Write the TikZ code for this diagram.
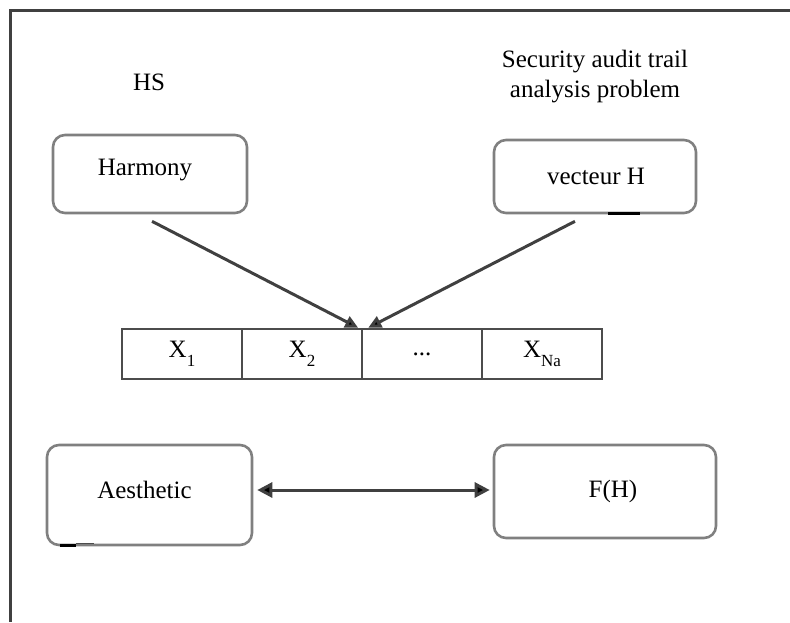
\documentclass[tikz,border=0pt]{standalone}
\usepackage{fontspec}
\setmainfont{Liberation Serif}
\usetikzlibrary{arrows.meta}
\newcommand\subx[1]{\raisebox{-0.8ex}{\fontsize{17}{17}\selectfont #1}}
\begin{document}
\begin{tikzpicture}[x=1pt,y=-1pt,
  every node/.style={font=\fontsize{25}{30}\selectfont},
  box/.style={draw=black!50, line width=2.6pt, rounded corners=12pt, inner sep=0pt},
  cell/.style={draw=black!70, line width=2.4pt, minimum width=120pt, minimum height=50pt, inner sep=0pt},
  link/.style={draw=black!75, line width=3pt, -{Triangle[length=13pt,width=12pt,fill=black]}},
  dlink/.style={draw=black!75, line width=3pt, {Triangle[length=15pt,width=15pt,fill=black]}-{Triangle[length=15pt,width=15pt,fill=black]}},
  frame/.style={draw=black!75, line width=3pt}]
\useasboundingbox (0,0) rectangle (790,622);
% frame
\coordinate (ftl) at (10,10);
\coordinate (ftr) at (790,10);
\coordinate (fbl) at (10,622);
\draw[frame] (ftr) -- (ftl) -- (fbl);
% titles
\node (hs) at (149,82) {HS};
\node[align=center] (sat) at (595,77) {Security audit trail\\analysis problem};
% boxes
\node[box, minimum width=194pt, minimum height=78pt,
  label={[xshift=-5pt,yshift=4pt]center:Harmony}] (harm) at (150,174) {};
\node[box, minimum width=202pt, minimum height=73pt,
  label={[xshift=1pt,yshift=0pt]center:vecteur H}] (vec) at (595,176.5) {};
\node[box, minimum width=205pt, minimum height=100pt,
  label={[xshift=-5pt,yshift=5pt]center:Aesthetic}] (aes) at (149.5,495) {};
\node[box, minimum width=222pt, minimum height=93pt,
  label={[xshift=8pt,yshift=0pt]center:F(H)}] (fh) at (605,491.5) {};
% array
\node[cell] (c1) at (182,354) {X\subx{1}};
\node[cell] (c2) at (302,354) {X\subx{2}};
\node[cell] (c3) at (422,354) {...};
\node[cell] (c4) at (542,354) {X\subx{Na}};
% small marks
\draw[black, line width=3pt] (608,213) -- (640,213);
\draw[black, line width=3pt] (60,545) -- (76,545);
\draw[black!70, line width=1.5pt] (76,543.5) -- (94,543.5);
% connectors
\coordinate (a1s) at ([shift={(2,7)}]harm.south);
\coordinate (a1e) at ([xshift=-5pt]c2.north east);
\coordinate (a2s) at ([shift={(-20,7)}]vec.south);
\coordinate (a2e) at ([xshift=5pt]c2.north east);
\draw[link] (a1s) -- (a1e);
\draw[link] (a2s) -- (a2e);
\coordinate (ds) at ([shift={(4,-5)}]aes.east);
\coordinate (de) at ([shift={(-3,-1.5)}]fh.west);
\draw[dlink] (ds) -- (de);
\end{tikzpicture}
\end{document}
